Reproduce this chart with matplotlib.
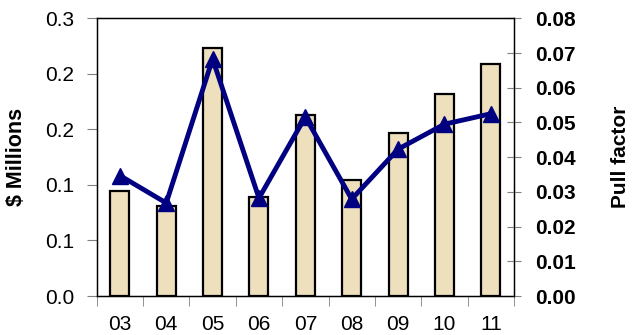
import matplotlib
matplotlib.use("Agg")
from matplotlib import pyplot as plt
import numpy as np

years = ["03", "04", "05", "06", "07", "08", "09", "10", "11"]
millions = [0.113, 0.097, 0.268, 0.107, 0.196, 0.125, 0.176, 0.218, 0.251]
pull_factor = [0.0347, 0.0268, 0.0683, 0.0282, 0.0516, 0.0279, 0.0423, 0.0495, 0.0525]

plt.rcParams['font.family'] = ['Liberation Sans', 'DejaVu Sans']

fig = plt.figure(figsize=(6.34, 3.35), dpi=100)
ax1 = fig.add_axes([0.1525, 0.1164, 0.6582, 0.829])
x = np.arange(len(years))

# bars on the left axis
ax1.bar(x, millions, width=0.41, color='#EEDFBD', edgecolor='black', linewidth=1.6, zorder=2)
ax1.set_xlim(-0.5, len(years) - 0.5)
ax1.set_ylim(0, 0.3)
ax1.set_yticks(np.arange(0, 0.301, 0.06))
ax1.set_yticklabels(['%.1f' % v for v in np.arange(0, 0.301, 0.06)])
ax1.set_xticks(x)
ax1.set_xticklabels(years)
ax1.set_xticks(np.arange(-0.5, len(years)), minor=True)
ax1.tick_params(axis='x', which='major', length=0, pad=14, labelsize=15)
ax1.tick_params(axis='x', which='minor', length=7, color='#808080', direction='out')
ax1.tick_params(axis='y', length=7, color='#808080', direction='out', pad=9, labelsize=15)
ax1.set_ylabel('$ Millions', fontsize=15.5, fontweight='bold')
ax1.yaxis.set_label_coords(-0.168, 0.5)
for s in ['left', 'top', 'right', 'bottom']:
    ax1.spines[s].set_color('black')
    ax1.spines[s].set_linewidth(1.0)

# line on the right axis
ax2 = ax1.twinx()
ax2.plot(x, pull_factor, color='#000080', linewidth=3.5, marker='^', markersize=11, zorder=3)
ax2.set_ylim(0, 0.08)
ax2.set_yticks(np.arange(0, 0.0801, 0.01))
ax2.set_yticklabels(['%.2f' % v for v in np.arange(0, 0.0801, 0.01)], fontweight='bold')
ax2.tick_params(axis='y', length=10, color='#808080', direction='inout', pad=10, labelsize=15)
ax2.set_ylabel('Pull factor', fontsize=15, fontweight='bold')
ax2.yaxis.set_label_coords(1.232, 0.5)
ax2.spines['right'].set_color('black')

plt.savefig('out.png', dpi=100)
